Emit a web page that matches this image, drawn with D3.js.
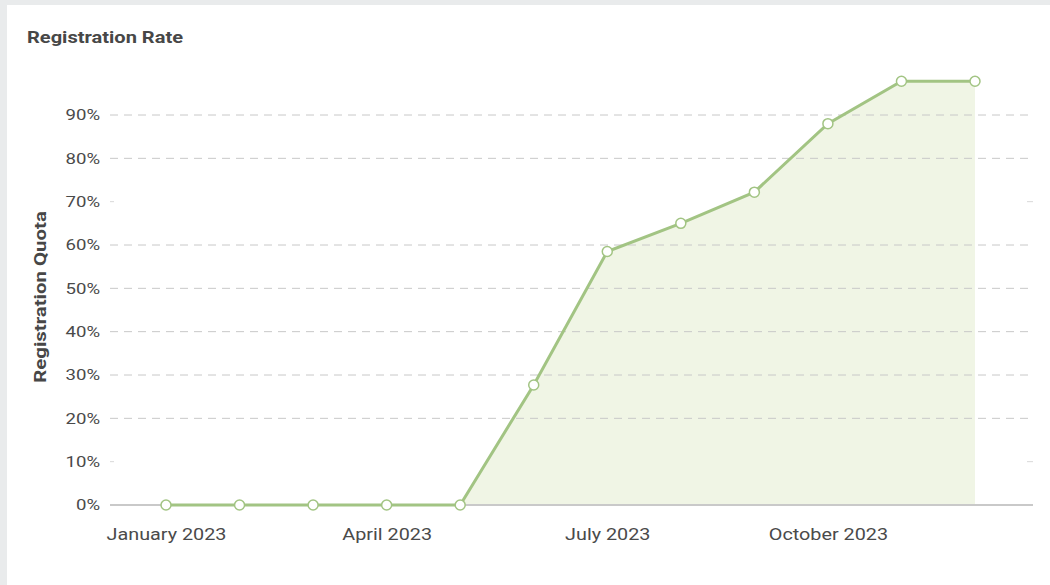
<!DOCTYPE html>
<html>
<head>
<meta charset="utf-8">
<script src="https://cdn.jsdelivr.net/npm/d3@7"></script>
<style>
  html, body { margin: 0; padding: 0; background: #e9ebec; }
  #chart { position: absolute; left: 7px; top: 5px; width: 1043px; height: 580px; background: #fff; }
  text { font-family: Roboto, "Noto Sans", sans-serif; }
</style>
</head>
<body>
<div id="chart"></div>
<script>
var months = ["January 2023", "February 2023", "March 2023", "April 2023", "May 2023", "June 2023",
  "July 2023", "August 2023", "September 2023", "October 2023", "November 2023", "December 2023"];
var rates = [0, 0, 0, 0, 0, 27.7, 58.5, 65, 72.2, 88, 97.8, 97.8];
var tickMonths = ["January 2023", "April 2023", "July 2023", "October 2023"];
var yTicks = [0, 10, 20, 30, 40, 50, 60, 70, 80, 90];
var fullGrid = [20, 30, 40, 50, 60, 80, 90];

var svgWidth = 1043;
var svgHeight = 580;

// the text in the picture is wider than plain Roboto
var stretch = "scale(1.2,1)";

var svg = d3.select("#chart")
  .append("svg")
  .attr("width", svgWidth)
  .attr("height", svgHeight);

// plot area in svg coords (card offset is 7,5)
var x0 = 103, x1 = 1026;
var y0 = 500;

var xScale = d3.scalePoint()
  .domain(months)
  .range([159, 968]);

var yScale = d3.scaleLinear()
  .domain([0, 90])
  .range([y0, 110]);

// title
svg.append("text")
  .attr("transform", "translate(20,38) scale(1.18,1)")
  .attr("fill", "#474747")
  .attr("font-size", 17)
  .attr("font-weight", "bold")
  .text("Registration Rate");

// y axis label
svg.append("text")
  .attr("transform", "translate(39,292) rotate(-90) scale(1.2,1)")
  .attr("text-anchor", "middle")
  .attr("fill", "#474747")
  .attr("font-size", 17)
  .attr("font-weight", "bold")
  .text("Registration Quota");

// area fill
var area = d3.area()
  .x(function(d, i) { return xScale(months[i]); })
  .y0(yScale(0))
  .y1(function(d) { return yScale(d); });

svg.append("path")
  .datum(rates)
  .attr("d", area)
  .attr("fill", "#f0f5e5");

// gridlines
var grid = svg.append("g");
grid.selectAll("line.full")
  .data(fullGrid)
  .enter()
  .append("line")
  .attr("x1", x0)
  .attr("x2", x1)
  .attr("y1", function(d) { return yScale(d); })
  .attr("y2", function(d) { return yScale(d); })
  .attr("stroke", "#c8c8c8")
  .attr("stroke-width", 1)
  .attr("stroke-dasharray", "8,6");

// the 10% and 70% lines only show short stubs at the ends
[10, 70].forEach(function(v) {
  [[x0, x0 + 4], [x1 - 6, x1]].forEach(function(seg) {
    grid.append("line")
      .attr("x1", seg[0]).attr("x2", seg[1])
      .attr("y1", yScale(v)).attr("y2", yScale(v))
      .attr("stroke", "#d8d8d8");
  });
});

// x axis line
svg.append("line")
  .attr("x1", x0)
  .attr("x2", x1)
  .attr("y1", yScale(0))
  .attr("y2", yScale(0))
  .attr("stroke", "#c9c9c9")
  .attr("stroke-width", 2);

// y tick labels
var leftAxis = d3.axisLeft(yScale)
  .tickValues(yTicks)
  .tickSize(0)
  .tickPadding(0)
  .tickFormat(function(d) { return d + "%"; });

var yAxisG = svg.append("g")
  .attr("transform", "translate(" + 93 + ",0)")
  .call(leftAxis);
yAxisG.select(".domain").remove();
yAxisG.selectAll("text")
  .attr("transform", stretch)
  .attr("font-size", 15.5)
  .attr("fill", "#4a4a4a")
  .attr("font-family", "Roboto, sans-serif");

// x tick labels
var bottomAxis = d3.axisBottom(xScale)
  .tickValues(tickMonths)
  .tickSize(0)
  .tickPadding(0);

var xAxisG = svg.append("g")
  .attr("transform", "translate(0," + 523 + ")")
  .call(bottomAxis);
xAxisG.select(".domain").remove();
xAxisG.selectAll("text")
  .attr("transform", stretch)
  .attr("font-size", 16.5)
  .attr("fill", "#4a4a4a")
  .attr("font-family", "Roboto, sans-serif");

// line
var line = d3.line()
  .x(function(d, i) { return xScale(months[i]); })
  .y(function(d) { return yScale(d); });

svg.append("path")
  .datum(rates)
  .attr("d", line)
  .attr("fill", "none")
  .attr("stroke", "#a2c483")
  .attr("stroke-width", 3);

// points
svg.selectAll("circle")
  .data(rates)
  .enter()
  .append("circle")
  .attr("cx", function(d, i) { return xScale(months[i]); })
  .attr("cy", function(d) { return yScale(d); })
  .attr("r", 5)
  .attr("fill", "#fff")
  .attr("stroke", "#a2c483")
  .attr("stroke-width", 1.5);
</script>
</body>
</html>
